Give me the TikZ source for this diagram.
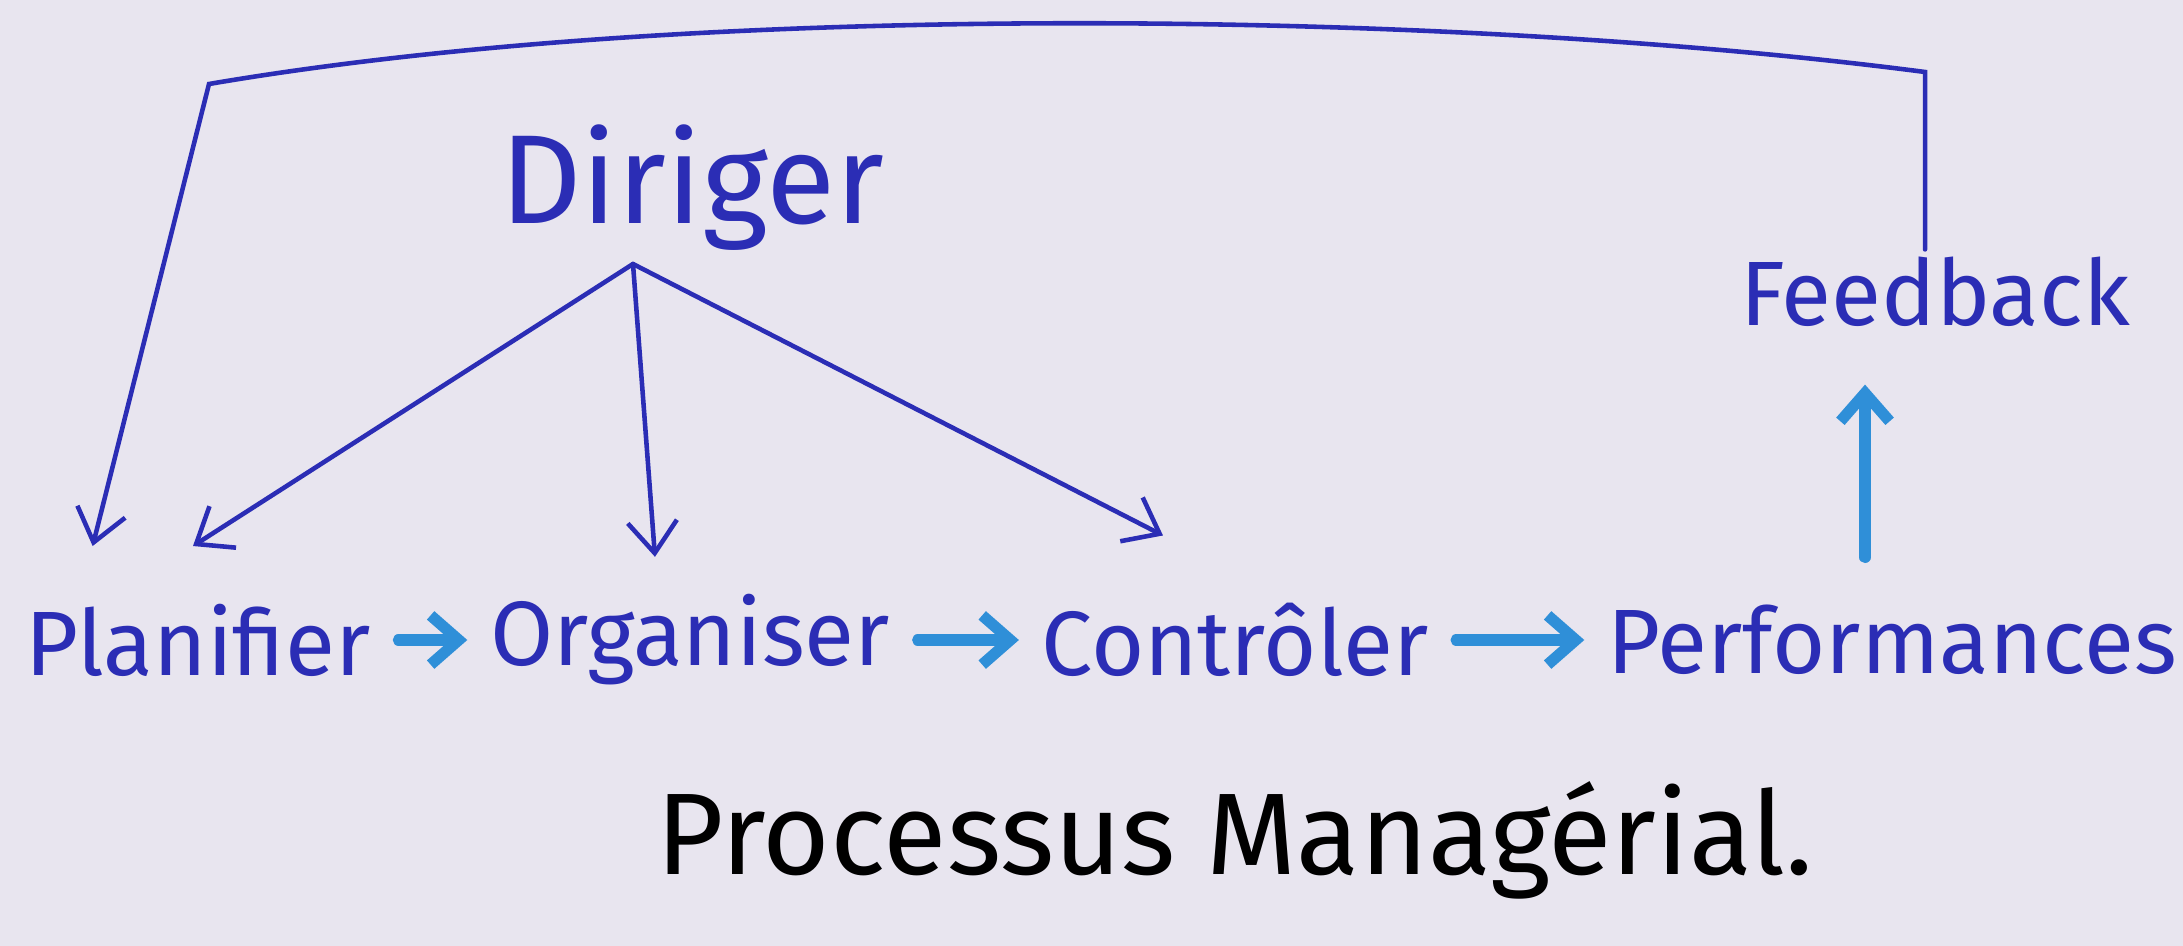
\documentclass[tikz,border=0pt]{standalone}
\usepackage{fontspec}
\setmainfont{Fira Sans}
\usetikzlibrary{arrows.meta}
\definecolor{ink}{HTML}{2B2DB5}
\definecolor{lightink}{HTML}{2F8FD8}
\definecolor{paper}{HTML}{E8E5EF}
\begin{document}
\begin{tikzpicture}[x=0.01cm,y=-0.01cm,
  word/.style={text=ink, font=\fontsize{26}{30}\selectfont, inner sep=2pt},
  bigword/.style={text=ink, font=\fontsize{36}{40}\selectfont, inner sep=2pt},
  titleword/.style={text=black, font=\fontsize{33}{38}\selectfont, inner sep=2pt},
  thinarrow/.style={draw=ink, line width=1.3pt, line cap=round, -{Straight Barb[length=9pt,width=14pt]}},
  flowarrow/.style={draw=lightink, line width=3.2pt, line cap=round, -{Straight Barb[length=8pt,width=14pt]}}]
\fill[paper] (0,0) rectangle (2183,946);
\useasboundingbox (0,0) rectangle (2183,946);
% nodes
\node[bigword] (dir)  at (692,188) {Diriger};
\node[word] (fb)   at (1935,292) {Feedback};
\node[word] (plan) at (198,640) {Planifier};
\node[word] (org)  at (690,640) {Organiser};
\node[word] (ctrl) at (1235,640) {Contrôler};
\node[word] (perf) at (1892,640) {Performances};
\node[titleword] (title) at (1235,840) {Processus Managérial.};
% helper coordinates
\coordinate (dirfoot) at (633,264);
\coordinate (tr) at (1925,72);
\coordinate (tl) at (209,84);
\coordinate (pfx) at (1865,0);
% Diriger fan
\draw[thinarrow] (dirfoot) -- ([xshift=-0.05cm,yshift=0.5cm]plan.north);
\draw[thinarrow] (dirfoot) -- ([xshift=-0.35cm,yshift=0.3cm]org.north);
\draw[thinarrow] (dirfoot) -- ([xshift=-0.72cm,yshift=0.6cm]ctrl.north);
% flow
\draw[flowarrow, shorten <=0.2cm, shorten >=0.15cm] (plan) -- (org);
\draw[flowarrow, shorten <=0.2cm, shorten >=0.15cm] (org) -- (ctrl);
\draw[flowarrow, shorten <=0.2cm, shorten >=0.15cm] (ctrl) -- (perf);
\draw[flowarrow, shorten <=0.4cm, shorten >=0.5cm] (perf.north -| pfx) -- (fb.south -| pfx);
% feedback loop
\draw[thinarrow] (fb.north -| tr) -- (tr) .. controls (1450,10) and (700,0) .. (tl) -- ([xshift=0.75cm,yshift=0.5cm]plan.north west);
\end{tikzpicture}
\end{document}
